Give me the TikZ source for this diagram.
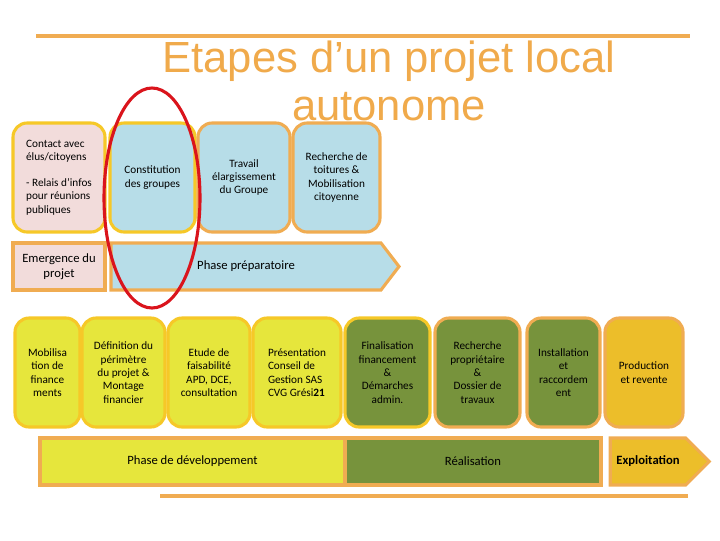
\documentclass[tikz,border=0pt]{standalone}
\usepackage{fontspec}
\setmainfont{Carlito}
\newfontfamily\titlefont{Liberation Sans}
\usetikzlibrary{shapes.symbols,shapes.geometric}
\newcommand{\px}{0.025cm}
\definecolor{pinkfill}{RGB}{242,220,219}
\definecolor{bluefill}{RGB}{183,221,232}
\definecolor{yellowfill}{RGB}{230,230,60}
\definecolor{greenfill}{RGB}{119,147,60}
\definecolor{goldfill}{RGB}{236,190,42}
\definecolor{orangeline}{RGB}{240,172,82}
\definecolor{goldline}{RGB}{246,200,40}
\definecolor{titleorange}{RGB}{240,170,75}
\definecolor{redring}{RGB}{218,20,28}

\begin{document}
\begin{tikzpicture}[x=\px, y=-\px,
    step box/.style={draw, rectangle, rounded corners=10pt, line width=2.2pt, align=center, inner sep=0pt, font=\fontsize{8}{9.5}\selectfont},
    toprow/.style={step box, minimum height=109*\px},
    devrow/.style={step box, minimum height=109*\px},
    phase/.style={draw=orangeline, rectangle, line width=2.2pt, align=center, inner sep=0pt, minimum height=47*\px, font=\fontsize{9}{10.5}\selectfont},
    arrowphase/.style={phase, signal, signal to=east}]
    \useasboundingbox (0,0) rectangle (720,540);

    % Title
    \draw[orangeline, line width=2.2pt] (36,36) -- (690,36);
    \node[anchor=base, text=titleorange, font=\titlefont\fontsize{31}{34}\selectfont] (title-1) at (389,72) {Etapes d’un projet local};
    \node[anchor=base, text=titleorange, font=\titlefont\fontsize{31}{34}\selectfont] (title-2) at (389,120) {autonome};

    % First row
    \node[toprow, fill=pinkfill, draw=goldline, minimum width=92*\px, align=left] (contact) at (59,177.5) {Contact avec\\élus/citoyens\\[9pt]- Relais d’infos\\pour réunions\\publiques};
    \node[toprow, fill=bluefill, draw=goldline, minimum width=85*\px] (constitution) at (152.5,177.5) {Constitution\\des groupes};
    \node[toprow, fill=bluefill, draw=orangeline, minimum width=92*\px] (travail) at (244,177.5) {Travail\\élargissement\\du Groupe};
    \node[toprow, fill=bluefill, draw=orangeline, minimum width=87*\px] (toitures) at (336.5,177.5) {Recherche de\\toitures \&\\Mobilisation\\citoyenne};

    % Second row
    \node[phase, fill=pinkfill, minimum width=92*\px] (emergence) at (59,266.5) {Emergence du\\projet};
    \node[arrowphase, fill=bluefill, signal pointer angle=105, minimum width=288*\px] (preparatoire) at (246,266.5) {Phase préparatoire};

    % Third row
    \node[devrow, fill=yellowfill, draw=goldline, minimum width=65*\px] (mobilisation) at (47.5,372.5) {Mobilisa\\tion de\\finance\\ments};
    \node[devrow, fill=yellowfill, draw=goldline, minimum width=83*\px] (perimetre) at (123.5,372.5) {Définition du\\périmètre\\du projet \&\\Montage\\financier};
    \node[devrow, fill=yellowfill, draw=goldline, minimum width=82*\px] (etude) at (209,372.5) {Etude de\\faisabilité\\APD, DCE,\\consultation};
    \node[devrow, fill=yellowfill, draw=goldline, minimum width=88*\px, align=left] (presentation) at (297,372.5) {Présentation\\Conseil de\\Gestion SAS\\CVG Grési\textbf{21}};
    \node[devrow, fill=greenfill, draw=goldline, minimum width=85*\px] (finalisation) at (387.5,372.5) {Finalisation\\financement\\\&\\Démarches\\admin.};
    \node[devrow, fill=greenfill, draw=orangeline, minimum width=85*\px] (proprietaire) at (477.5,372.5) {Recherche\\propriétaire\\\&\\Dossier de\\travaux};
    \node[devrow, fill=greenfill, draw=orangeline, minimum width=73*\px] (installation) at (563.5,372.5) {Installation\\et\\raccordem\\ent};
    \node[devrow, fill=goldfill, draw=orangeline, minimum width=78*\px] (production) at (644,372.5) {Production\\et revente};

    % Fourth row
    \node[phase, fill=yellowfill, minimum width=305*\px] (developpement) at (192.5,461.5) {Phase de développement};
    \node[phase, fill=greenfill, minimum width=256*\px] (realisation) at (473,461.5) {Réalisation};
    \node[arrowphase, fill=goldfill, signal pointer angle=90, minimum width=99*\px, font=\fontsize{9}{10.5}\bfseries] (exploitation) at (648,461.5) {Exploitation};
    \draw[orangeline, line width=2.2pt] (160,496) -- (688,496);

    % Highlight
    \node[draw=redring, ellipse, line width=2.2pt, minimum width=96*\px, minimum height=220*\px] (ring) at (152,198) {};
\end{tikzpicture}
\end{document}
